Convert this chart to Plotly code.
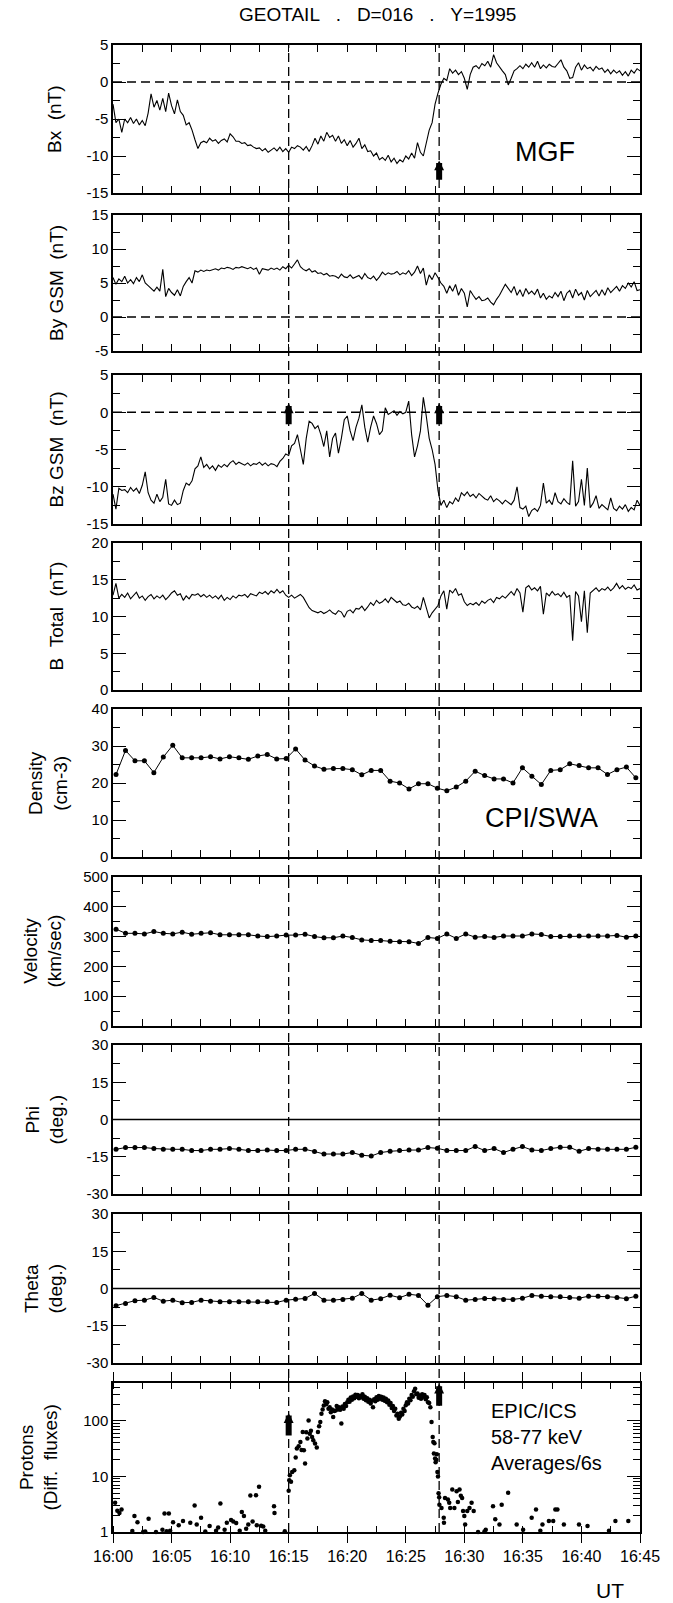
import numpy as np
import pandas as pd
import plotly.graph_objects as go

# ---------------------------------------------------------------------------
# GEOTAIL, day 016 of 1995, 16:00-16:45 UT
# ---------------------------------------------------------------------------
T0 = pd.Timestamp("1995-01-16 16:00:00")

# MGF magnetic field, 15 s samples (minutes after 16:00)
mgf_minutes = np.arange(181) * 0.25

bx = [
    -3.0, -5.5, -5.0, -6.8,   -5.0, -5.5, -4.8, -5.6,   -5.0, -5.8, -5.2, -5.9,
    -4.2, -1.6, -3.4, -2.5,   -3.8, -2.2, -4.0, -1.5,   -3.2, -4.3, -2.4, -4.0,
    -4.5, -5.8, -5.5, -6.5,   -7.8, -9.0, -8.2, -8.0,   -8.2, -7.6, -8.0, -7.8,
    -8.3, -7.9, -7.7, -8.1,   -7.0, -7.4, -8.0, -8.0,   -8.3, -8.2, -8.6, -8.5,
    -8.8, -9.0, -8.9, -9.3,   -9.0, -9.5, -9.2, -8.9,   -9.3, -8.8, -9.4, -9.0,
    -9.5, -8.8, -9.0, -8.6,   -8.8, -9.2, -8.7, -9.4,   -8.6, -7.6, -8.4, -7.3,
    -8.0, -6.8, -7.5, -7.2,   -8.0, -7.3, -8.3, -7.8,   -8.6, -7.9, -8.8, -8.3,
    -7.6, -9.0, -8.5, -9.4,   -9.3, -10.0, -9.6, -10.5, -10.2, -10.6, -9.9, -10.8,
    -10.3, -11.0, -10.5, -10.8, -10.0, -10.4, -9.6, -10.3, -8.2, -9.5, -10.0, -8.4,
    -6.5, -5.5, -3.0, -1.5,   -0.3, 0.5, 0.2, 1.8,      1.2, 1.6, 1.0, 1.4,
    0.5, -1.0, 1.0, 2.0,      2.2, 1.8, 2.5, 2.2,       2.8, 2.0, 3.7, 2.6,
    2.0, 1.5, 1.0, -0.4,      0.5, 1.5, 1.8, 2.2,       1.8, 2.4, 2.0, 2.6,
    2.0, 2.8, 1.8, 2.3,       1.9, 2.4, 2.1, 2.0,       2.5, 3.0, 2.0, 1.5,
    0.5, 0.6, 2.0, 2.6,       1.6, 2.3, 1.8, 2.0,       1.5, 2.1, 1.7, 1.9,
    1.3, 1.7, 1.1, 1.6,       1.2, 1.5, 0.9, 1.4,       0.8, 1.6, 1.2, 1.8,
    1.5,
]

by_gsm = [
    5.8, 4.8, 5.6, 5.2,   6.0, 5.0, 5.5, 4.9,   5.8, 5.2, 6.2, 5.0,
    4.6, 4.2, 3.8, 4.4,   3.8, 7.0, 3.0, 4.2,   3.6, 3.2, 4.0, 3.1,
    4.5, 5.2, 5.8, 5.0,   6.8, 6.6, 6.9, 6.7,   6.9, 6.8, 7.0, 7.1,
    6.9, 7.2, 7.1, 7.3,   7.2, 7.0, 7.3, 7.2,   7.4, 7.2, 7.1, 7.3,
    7.0, 7.2, 6.3, 7.1,   7.0, 6.9, 7.2, 7.0,   7.2, 6.9, 7.4, 7.1,
    7.6, 7.2, 7.8, 8.4,   7.4, 7.0, 6.8, 7.1,   6.6, 6.8, 6.4, 6.5,
    6.2, 6.4, 6.0, 6.1,   6.0, 5.7, 6.3, 5.9,   5.8, 6.2, 5.7, 5.9,
    6.1, 5.6, 6.4, 5.8,   5.6, 6.0, 5.4, 5.9,   6.6, 6.2, 6.5, 6.3,
    6.4, 6.7, 6.2, 6.5,   6.3, 6.8, 6.1, 6.6,   7.5, 6.4, 7.2, 4.7,
    6.2, 5.5, 6.5, 5.8,   5.0, 4.5, 3.5, 4.6,   3.8, 4.8, 3.2, 4.2,
    3.5, 1.5, 3.9, 3.2,   2.6, 3.0, 2.4, 2.5,   2.8, 2.2, 1.8, 2.6,
    3.2, 4.0, 4.8, 4.2,   3.6, 4.5, 3.2, 4.0,   3.0, 4.2, 3.4, 3.8,
    3.3, 4.1, 2.8, 3.5,   2.6, 3.1, 2.8, 3.6,   3.0, 3.8, 2.4, 3.5,
    3.9, 2.8, 4.1, 3.2,   3.6, 2.5, 3.9, 3.0,   3.4, 3.9, 3.1, 4.0,
    3.2, 4.3, 3.6, 4.0,   4.5, 3.8, 4.6, 4.2,   5.0, 4.4, 5.2, 3.9,
    4.0,
]

bz_gsm = [
    -11.0, -13.0, -10.2, -10.5,  -10.4, -10.8, -10.1, -10.6,  -10.2, -10.9, -9.8, -8.0,
    -10.8, -11.8, -12.2, -11.0,  -12.0, -11.4, -9.0, -12.3,   -12.5, -11.8, -12.4, -12.2,
    -10.5, -9.5, -9.8, -9.2,     -7.6, -7.2, -6.0, -7.4,      -7.0, -7.6, -7.2, -7.8,
    -7.1, -7.4, -7.0, -7.3,      -6.8, -6.5, -7.0, -6.7,      -6.9, -7.1, -6.8, -7.2,
    -6.9, -7.0, -6.7, -7.1,      -6.8, -7.2, -6.9, -7.0,      -7.3, -6.6, -6.2, -5.6,
    -5.8, -4.5, -4.2, -3.0,      -5.0, -7.0, -3.5, -1.2,      -1.5, -2.2, -1.8, -3.0,
    -4.6, -2.5, -6.0, -3.5,      -2.8, -5.5, -3.5, -1.0,      -0.5, -2.5, -3.8, -2.0,
    -0.8, 1.0, -2.0, -4.0,       -2.0, -0.5, -1.5, -3.0,      -2.5, 0.6, -0.3, -0.1,
    0.2, -0.4, 0.1, -0.2,        0.0, 1.5, -3.0, -6.0,        -4.5, -2.5, 2.0, -0.5,
    -3.5, -5.0, -7.0, -10.5,     -12.5, -11.8, -12.8, -12.0,  -12.3, -11.5, -12.0, -10.8,
    -11.2, -10.7, -11.3, -11.0,  -11.5, -10.9, -11.3, -11.6,  -11.8, -11.2, -12.0, -11.6,
    -11.9, -12.3, -11.8, -12.1,  -12.4, -11.8, -10.0, -12.8,  -13.0, -12.6, -14.0, -13.2,
    -12.9, -13.3, -12.5, -9.5,   -12.2, -11.8, -12.4, -10.8,  -12.0, -12.3, -11.6, -12.1,
    -12.4, -6.5, -12.6, -12.0,   -9.0, -12.5, -7.5, -12.8,    -12.2, -11.2, -12.9, -12.4,
    -12.7, -13.1, -11.5, -12.9,  -13.2, -12.6, -13.0, -12.4,  -13.3, -12.8, -13.1, -11.8,
    -12.5,
]

b_total = [
    12.9, 14.5, 12.5, 13.0,  12.6, 13.2, 12.4, 12.9,  13.3, 12.5, 12.8, 12.2,
    12.7, 13.0, 12.4, 12.8,  12.5, 12.9, 12.3, 12.7,  13.2, 13.5, 12.9, 13.1,
    12.2, 12.8, 12.4, 13.0,  12.9, 13.1, 12.7, 13.0,  12.6, 12.9, 12.5, 12.8,
    12.4, 12.9, 12.2, 12.6,  12.3, 12.8, 12.5, 12.9,  12.8, 13.0, 12.6, 13.1,
    13.0, 12.8, 13.3, 13.1,  13.4, 13.0, 13.5, 13.2,  13.7, 13.2, 13.5, 12.9,
    12.6, 12.9, 12.5, 12.7,  13.0, 12.6, 11.8, 11.2,  10.8, 10.6, 10.5, 10.7,
    10.4, 10.6, 10.9, 10.5,  10.3, 10.8, 10.6, 9.9,   10.7, 10.9, 10.5, 11.1,
    11.0, 11.4, 10.8, 11.3,  11.9, 11.5, 12.2, 11.8,  12.0, 12.4, 11.9, 12.6,
    12.2, 11.9, 12.1, 11.6,  11.5, 11.8, 11.3, 11.1,  11.4, 10.9, 12.6, 11.2,
    9.8, 10.5, 11.0, 11.5,   12.8, 13.5, 11.0, 13.6,  13.2, 13.8, 12.9, 13.1,
    12.0, 11.5, 11.8, 11.6,  11.9, 11.5, 12.1, 11.8,  12.2, 12.4, 11.9, 12.6,
    12.4, 12.8, 12.5, 13.0,  13.4, 12.9, 13.8, 13.2,  10.6, 13.9, 14.2, 13.6,
    13.9, 13.5, 14.1, 10.3,  13.2, 12.8, 13.4, 12.9,  13.1, 12.7, 13.3, 12.6,
    12.9, 6.7, 13.4, 12.8,   9.3, 13.5, 7.8, 13.2,    13.6, 13.9, 13.4, 13.8,
    13.6, 14.0, 13.5, 13.9,  14.5, 13.8, 14.2, 13.7,  14.0, 13.8, 14.3, 13.6,
    13.8,
]

# CPI/SWA moments, ~48 s cadence
swa_minutes = 0.26 + 0.807 * np.arange(56)

density = [
    22.3, 28.8, 26.0, 26.0, 22.8, 27.0, 30.2, 26.8, 26.8, 26.8, 27.1, 26.5, 27.1, 26.8,
    26.4, 27.3, 27.7, 26.5, 26.6, 29.2, 26.2, 24.6, 23.7, 23.9, 23.9, 23.6, 22.2, 23.4,
    23.4, 20.5, 20.0, 18.4, 19.8, 19.8, 18.6, 17.9, 18.9, 20.5, 23.2, 22.0, 21.1, 21.1,
    20.0, 24.1, 21.8, 19.6, 23.4, 23.6, 25.2, 24.7, 24.1, 24.1, 22.3, 23.6, 24.3, 21.4,
]

velocity = [
    325, 311, 311, 309, 317, 311, 309, 315, 308, 311, 313, 306, 306, 306,
    306, 302, 300, 302, 305, 305, 308, 300, 296, 296, 302, 297, 289, 287,
    287, 284, 283, 283, 277, 297, 294, 309, 294, 309, 298, 300, 297, 302,
    302, 302, 309, 307, 300, 300, 302, 302, 302, 302, 302, 304, 298, 302,
]

phi = [
    -12.0, -11.3, -11.3, -11.3, -11.7, -12.0, -12.0, -12.0, -12.5, -12.5, -12.0, -12.0,
    -11.7, -12.0, -12.5, -12.5, -12.3, -12.5, -12.5, -12.0, -12.0, -12.9, -13.9, -13.9,
    -13.9, -13.3, -14.4, -14.7, -13.3, -12.8, -12.5, -12.3, -12.3, -11.3, -11.6, -12.5,
    -12.5, -12.5, -10.9, -12.5, -11.7, -13.3, -12.0, -10.9, -12.3, -12.5, -11.7, -11.2,
    -11.2, -12.8, -11.7, -12.0, -12.0, -12.0, -12.0, -11.2,
]

theta = [
    -6.9, -6.0, -4.9, -4.7, -3.6, -5.1, -4.7, -5.7, -5.6, -4.7, -5.1, -5.3,
    -5.3, -5.3, -5.3, -5.3, -5.3, -5.6, -4.7, -4.3, -4.0, -2.0, -4.7, -4.7,
    -4.4, -3.9, -2.0, -4.7, -4.1, -2.7, -3.7, -2.3, -2.8, -6.7, -3.3, -2.8,
    -3.3, -4.7, -4.4, -4.0, -4.1, -4.4, -4.4, -3.9, -2.8, -3.1, -3.3, -3.3,
    -3.6, -3.9, -3.1, -3.1, -3.3, -3.6, -4.1, -3.1,
]

# EPIC/ICS 58-77 keV proton differential fluxes, 6 s averages
quiet_minutes = [
    0.18, 0.37, 0.55, 0.73, 1.65, 1.83, 2.09, 2.57, 2.75, 3.04, 3.67, 4.22, 4.40, 4.58,
    4.77, 4.88, 5.13, 5.61, 5.98, 6.60, 6.97, 7.15, 7.52, 7.88, 8.25, 8.80, 8.98, 9.17,
    9.53, 9.72, 10.08, 10.27, 10.52, 10.82, 11.00, 11.18, 11.37, 11.55, 11.73, 11.92,
    12.21, 12.28, 12.47, 12.65, 12.83, 13.00, 13.75, 13.79, 14.67,
]
quiet_flux = [
    3.35, 2.40, 2.20, 2.55, 1.04, 1.93, 1.50, 1.00, 1.02, 1.73, 1.00, 1.10, 2.16, 1.03,
    2.16, 1.05, 1.50, 1.32, 1.57, 1.47, 3.00, 1.37, 1.80, 1.02, 1.28, 1.05, 1.20, 3.26,
    1.10, 1.47, 1.64, 1.55, 1.45, 1.05, 2.28, 1.93, 1.15, 1.37, 4.54, 1.55,
    4.60, 1.32, 6.50, 1.30, 1.25, 1.05, 2.90, 2.20, 1.03,
]

rise_minutes = [
    15.00, 15.05, 15.10, 15.20, 15.30, 15.48, 15.60, 15.70, 15.85, 16.00, 16.10, 16.20,
    16.30, 16.40, 16.50, 16.60, 16.70, 16.80, 16.90, 17.00, 17.10, 17.25, 17.40, 17.50,
    17.60, 17.70,
]
rise_flux = [
    5.5, 8.5, 10.5, 8.0, 12.0, 12.9, 21.8, 31.6, 35.0, 41.5, 30.0, 62.6,
    29.5, 17.0, 62.0, 48.0, 101.0, 58.6, 66.0, 51.0, 44.6, 38.9, 33.0, 62.6,
    80.0, 95.0,
]

plateau_minutes = np.round(17.8 + 0.1 * np.arange(95), 2)
plateau_flux = [
    134, 160,
    189, 225, 198, 215, 164, 175, 143, 160, 117, 150,
    154, 185, 160, 175, 158, 89, 180, 165, 200, 185,
    215, 240, 220, 262, 240, 275, 255, 295, 270, 290,
    255, 280, 265, 300, 250, 270, 235, 255, 220, 240,
    205, 230, 176, 245, 225, 265, 240, 280, 250, 270,
    240, 262, 230, 250, 215, 232, 195, 210, 170, 185,
    150, 165, 125, 134, 109, 120, 140, 130, 165, 150,
    190, 215, 205, 250, 235, 290, 270, 340, 377, 300,
    310, 260, 285, 250, 300, 270, 290, 245, 265, 215,
    210, 176, 95,
]

fall_minutes = [27.30, 27.35, 27.40, 27.45, 27.50, 27.55, 27.60, 27.65, 27.70, 27.75, 27.80, 27.85]
fall_flux = [51.0, 41.5, 25.7, 39.6, 21.0, 18.0, 20.0, 25.0, 12.0, 10.0, 5.0, 4.2]

late_minutes = [
    27.87, 28.05, 28.24, 28.26, 28.35, 28.60, 28.71, 28.79, 28.97, 29.15, 29.34, 29.45,
    29.59, 29.70, 29.81, 29.89, 30.00, 30.07, 30.25, 30.44, 30.62, 30.80, 31.17, 31.72,
    31.83, 32.45, 32.64, 33.00, 33.19, 33.74, 34.47, 35.02, 35.75, 36.12, 36.49, 36.67,
    37.22, 37.59, 37.77, 37.95, 38.50, 39.79, 40.52, 42.35, 42.90, 44.00,
]
late_flux = [
    3.1, 2.7, 1.8, 1.47, 4.1, 3.85, 3.35, 2.7, 5.8, 2.7, 5.4, 3.45,
    5.8, 4.5, 4.1, 2.38, 1.93, 1.37, 2.38, 2.7, 3.35, 2.38, 1.0, 1.02,
    1.1, 2.9, 1.7, 1.37, 3.1, 5.1, 1.37, 1.1, 1.8, 2.55, 1.05, 1.37,
    1.57, 1.57, 2.55, 2.55, 1.37, 1.37, 1.28, 1.05, 1.57, 1.57,
]

proton_minutes = np.concatenate([quiet_minutes, rise_minutes, plateau_minutes, fall_minutes, late_minutes])
proton_flux = np.concatenate([quiet_flux, rise_flux, plateau_flux, fall_flux, late_flux])

# boundary crossings marked by the vertical dashed lines (minutes after 16:00)
crossings = [15.0, 27.85]

# ---------------------------------------------------------------------------
FONT = "Liberation Sans, Arial, Helvetica, sans-serif"
W, H = 673, 1603
ML, MR, MT, MB = 113, 33, 45, 71
PW, PH = W - ML - MR, H - MT - MB

# panel top/bottom in page pixels
panel_px = [(45, 193), (215, 351), (375, 524), (543, 690), (709, 857),
            (877, 1026), (1045, 1194), (1214, 1363), (1383, 1532)]


def sfx(i):
    return "" if i == 1 else str(i)


def ydom(top, bottom):
    return [(H - MB - bottom) / PH, (H - MB - top) / PH]


def ut(minutes):
    return T0 + pd.to_timedelta(np.asarray(minutes, dtype=float), unit="min")


def ut_str(m):
    return (T0 + pd.Timedelta(minutes=float(m))).strftime("%Y-%m-%d %H:%M:%S.%f")


def px_x(px):
    return (px - ML) / PW


def px_y(py):
    return (H - MB - py) / PH


fig = go.Figure()

line_panels = [bx, by_gsm, bz_gsm, b_total]
for i, vals in enumerate(line_panels, start=1):
    fig.add_trace(go.Scatter(
        x=ut(mgf_minutes), y=vals, mode="lines",
        line=dict(color="black", width=1.1),
        xaxis=f"x{sfx(i)}", yaxis=f"y{sfx(i)}", hoverinfo="skip"))

for i, vals in enumerate([density, velocity, phi, theta], start=5):
    fig.add_trace(go.Scatter(
        x=ut(swa_minutes), y=vals, mode="lines+markers",
        line=dict(color="black", width=1),
        marker=dict(color="black", size=5),
        xaxis=f"x{i}", yaxis=f"y{i}", hoverinfo="skip"))

fig.add_trace(go.Scatter(
    x=ut(proton_minutes), y=proton_flux, mode="markers",
    marker=dict(color="black", size=4.5),
    cliponaxis=False,
    xaxis="x9", yaxis="y9", hoverinfo="skip"))

# y-axis settings: (range, tick values, minor tick values)
yspecs = [
    ([-15, 5], [-15, -10, -5, 0, 5], [-12.5, -7.5, -2.5, 2.5]),
    ([-5, 15], [-5, 0, 5, 10, 15], [-2.5, 2.5, 7.5, 12.5]),
    ([-15, 5], [-15, -10, -5, 0, 5], [-12.5, -7.5, -2.5, 2.5]),
    ([0, 20], [0, 5, 10, 15, 20], [2.5, 7.5, 12.5, 17.5]),
    ([0, 40], [0, 10, 20, 30, 40], [5, 15, 25, 35]),
    ([0, 500], [0, 100, 200, 300, 400, 500], [50, 150, 250, 350, 450]),
    ([-30, 30], [-30, -15, 0, 15, 30], [-22.5, -7.5, 7.5, 22.5]),
    ([-30, 30], [-30, -15, 0, 15, 30], [-22.5, -7.5, 7.5, 22.5]),
]

layout = dict(
    width=W, height=H,
    margin=dict(l=ML, r=MR, t=MT, b=MB, autoexpand=False),
    paper_bgcolor="white", plot_bgcolor="white",
    showlegend=False,
    font=dict(family=FONT, color="black", size=15),
)

x_range = [ut_str(0), ut_str(45)]
for i, (top, bottom) in enumerate(panel_px, start=1):
    last = i == 9
    xa = dict(
        type="date", range=x_range, domain=[0, 1], anchor=f"y{sfx(i)}",
        showline=True, linecolor="black", linewidth=1.5, mirror="allticks",
        showgrid=False, zeroline=False,
        tick0=ut_str(0), dtick=300000,
        ticks="outside" if last else "inside", ticklen=9 if last else 7,
        tickwidth=1.2, tickcolor="black",
        minor=dict(dtick=150000, ticks="inside", ticklen=6 if last else 7,
                   tickwidth=1.2, tickcolor="black"),
        showticklabels=last, tickformat="%H:%M",
        tickfont=dict(size=16, family=FONT, color="black"),
    )
    if i > 1:
        xa["matches"] = "x"
    layout[f"xaxis{sfx(i)}"] = xa

    ya = dict(
        domain=ydom(top, bottom), anchor=f"x{sfx(i)}",
        showline=True, linecolor="black", linewidth=1.5, mirror="allticks",
        showgrid=False, zeroline=False,
        ticks="inside", ticklen=13, tickwidth=1.2, tickcolor="black",
        tickfont=dict(size=15, family=FONT, color="black"),
    )
    if not last:
        rng, tv, mv = yspecs[i - 1]
        ya.update(range=rng, tickmode="array", tickvals=tv,
                  ticktext=[f"{v:g}" for v in tv],
                  minor=dict(tickmode="array", tickvals=mv, ticks="inside",
                             ticklen=7, tickwidth=1.2, tickcolor="black"))
    else:
        ya.update(type="log", range=[0, 2.68], tickmode="array",
                  tickvals=[1, 10, 100], ticktext=["1", "10", "100"],
                  minor=dict(tickmode="array",
                             tickvals=[2, 3, 4, 5, 6, 7, 8, 9,
                                       20, 30, 40, 50, 60, 70, 80, 90,
                                       200, 300, 400],
                             ticks="inside", ticklen=7, tickwidth=1,
                             tickcolor="black"))
    layout[f"yaxis{sfx(i)}"] = ya

fig.update_layout(**layout)

# --- reference lines --------------------------------------------------------
shapes = []
DASH = "9px,5px"
for m in crossings:
    shapes.append(dict(type="line", xref="x", yref="paper",
                       x0=ut_str(m), x1=ut_str(m), y0=0, y1=1,
                       line=dict(color="black", width=1.3, dash=DASH)))
for i in (1, 2, 3):
    shapes.append(dict(type="line", xref=f"x{sfx(i)} domain", yref=f"y{sfx(i)}",
                       x0=0, x1=1, y0=0, y1=0,
                       line=dict(color="black", width=1.3, dash=DASH)))
for i in (7, 8):
    shapes.append(dict(type="line", xref=f"x{i} domain", yref=f"y{i}",
                       x0=0, x1=1, y0=0, y1=0,
                       line=dict(color="black", width=1.6)))
fig.update_layout(shapes=shapes)

# --- text -------------------------------------------------------------------
ann = []
ann.append(dict(text="GEOTAIL\u00a0\u00a0\u00a0.\u00a0\u00a0\u00a0D=016\u00a0\u00a0\u00a0.\u00a0\u00a0\u00a0Y=1995",
                xref="paper", yref="paper", x=px_x(377), y=px_y(15),
                showarrow=False, font=dict(size=19, family=FONT, color="black"),
                xanchor="center", yanchor="middle"))

ytitles = [
    ("Bx\u00a0\u00a0(nT)", 55),
    ("By GSM\u00a0\u00a0(nT)", 56),
    ("Bz GSM\u00a0\u00a0(nT)", 56),
    ("B\u00a0\u00a0Total\u00a0\u00a0(nT)", 56),
    ("Density<br>(cm-3)", 48),
    ("Velocity<br>(km/sec)", 42),
    ("Phi<br>(deg.)", 44),
    ("Theta<br>(deg.)", 43),
    ("Protons<br>(Diff.\u00a0\u00a0fluxes)", 38),
]
for (txt, cx), (top, bottom) in zip(ytitles, panel_px):
    ann.append(dict(text=txt, xref="paper", yref="paper",
                    x=px_x(cx), y=px_y((top + bottom) / 2), textangle=-90,
                    showarrow=False, xanchor="center", yanchor="middle",
                    font=dict(size=19, family=FONT, color="black")))

ann.append(dict(text="MGF", xref="x", yref="y", x=ut_str(36.85), y=-9.45,
                xanchor="center", yanchor="middle",
                showarrow=False, font=dict(size=27, family=FONT, color="black")))
ann.append(dict(text="CPI/SWA", xref="x5", yref="y5", x=ut_str(36.6), y=10.5,
                xanchor="center", yanchor="middle",
                showarrow=False, font=dict(size=27, family=FONT, color="black")))
ann.append(dict(text="EPIC/ICS<br>58-77 keV<br>Averages/6s", xref="x9", yref="y9",
                x=ut_str(32.1), y=1.708, xanchor="left", yanchor="middle", align="left",
                showarrow=False, font=dict(size=20, family=FONT, color="black")))
ann.append(dict(text="UT", xref="paper", yref="paper", x=px_x(610), y=px_y(1590),
                xanchor="center", yanchor="middle",
                showarrow=False, font=dict(size=21, family=FONT, color="black")))

# upward arrows at the crossings: (panel, minute, tip, tail)
arrows = [
    (1, crossings[1], -10.6, -13.4),
    (3, crossings[0], 1.2, -1.8),
    (3, crossings[1], 1.2, -1.8),
    (9, crossings[0], 2.14, 1.71),
    (9, crossings[1], 2.67, 2.245),
]
for p, m, tip, tail in arrows:
    xr, yr = f"x{sfx(p)}", f"y{sfx(p)}"
    ann.append(dict(text="", xref=xr, yref=yr, axref=xr, ayref=yr,
                    x=ut_str(m), y=tip, ax=ut_str(m), ay=tail,
                    showarrow=True, arrowhead=2, arrowsize=0.33, arrowwidth=6,
                    arrowcolor="black", standoff=0))
fig.update_layout(annotations=ann)

fig.write_html("out.html")
